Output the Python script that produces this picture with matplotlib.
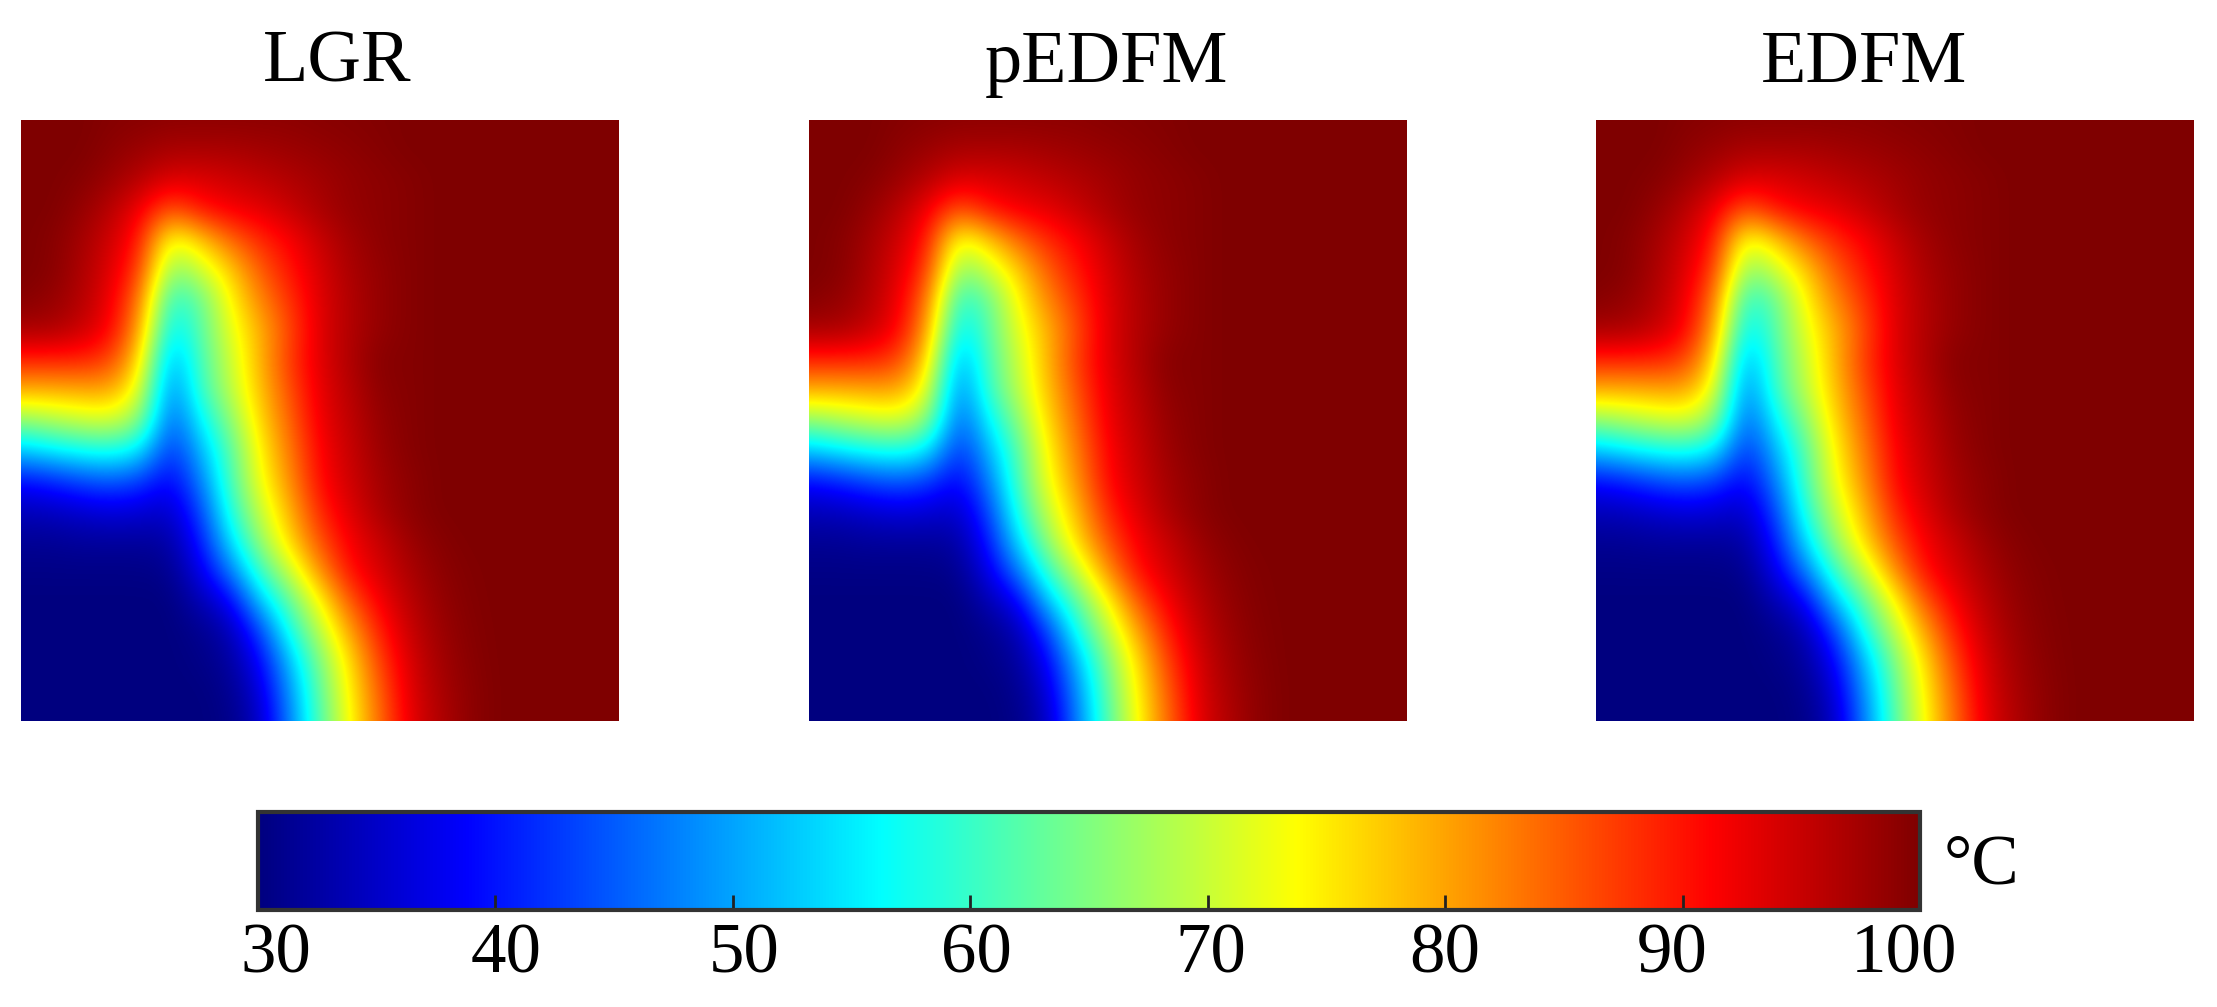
import numpy as np
import matplotlib
matplotlib.use('Agg')
import matplotlib.pyplot as plt
from matplotlib.colors import LinearSegmentedColormap

plt.rcParams['font.family'] = ['Liberation Serif', 'DejaVu Serif']

titles = ['LGR', 'pEDFM', 'EDFM']
title_x = [337, 1106, 1864]
cbar_ticks = [30, 40, 50, 60, 70, 80, 90, 100]

# Temperature on a 21 x 21 grid, top row first.
# The three fields differ by less than can be read, so they share it.
temperature = np.array([
    [100, 100, 100, 99.5, 99.3, 99, 99, 99, 99, 99, 99.3, 99.5, 99.7, 100, 100, 100, 100, 100, 100, 100, 100],
    [100, 100, 100, 99, 98, 97, 97, 97, 97.5, 98, 98.5, 99, 99.5, 100, 100, 100, 100, 100, 100, 100, 100],
    [100, 100, 99.5, 98, 96, 93.5, 93.5, 94.5, 95.5, 96.5, 97.5, 98.5, 99, 99.5, 100, 100, 100, 100, 100, 100, 100],
    [100, 100, 98.5, 96, 92, 85, 90, 92, 93, 95, 97, 98.5, 99, 99.5, 100, 100, 100, 100, 100, 100, 100],
    [100, 99.5, 97.5, 94.5, 89.5, 71.5, 77, 84, 88.5, 91.5, 95, 97.5, 99, 99.5, 100, 100, 100, 100, 100, 100, 100],
    [100, 99.5, 97, 93.5, 87, 65, 70, 77, 85, 90, 94, 97, 98.5, 99.5, 100, 100, 100, 100, 100, 100, 100],
    [99.5, 98.5, 96.5, 92.5, 83, 58, 63, 74, 82, 88, 93.5, 96.5, 98.5, 99.5, 100, 100, 100, 100, 100, 100, 100],
    [97, 97, 95, 91.5, 80, 54, 62, 72, 79, 86.5, 93.5, 96.5, 98.5, 99.5, 100, 100, 100, 100, 100, 100, 100],
    [89, 89, 89, 87, 76, 49, 61, 70, 79, 87.5, 93.4, 96.7, 99.5, 99.5, 100, 100, 100, 100, 100, 100, 100],
    [79, 79, 79.5, 80, 72, 46, 60, 69, 78, 86, 93, 96, 99, 99.5, 100, 100, 100, 100, 100, 100, 100],
    [66, 68, 70, 71, 66, 44, 55.5, 65.5, 76.5, 84.5, 92.5, 95.5, 98.5, 99.5, 100, 100, 100, 100, 100, 100, 100],
    [52.5, 55, 57, 58, 55, 41, 51, 62, 74.5, 83, 91.5, 95, 98, 99.5, 100, 100, 100, 100, 100, 100, 100],
    [39.5, 41, 43.5, 45, 43, 38, 47, 61, 73, 81.5, 91, 94.5, 97.5, 99, 100, 100, 100, 100, 100, 100, 100],
    [34, 34.5, 35.5, 36.5, 36, 35, 43, 58.5, 70, 79, 89, 93.5, 97, 99, 100, 100, 100, 100, 100, 100, 100],
    [31.5, 31.5, 32, 32, 32, 32.5, 40, 54, 66.5, 76.5, 86, 92, 95, 98, 99.5, 100, 100, 100, 100, 100, 100],
    [30.5, 30.5, 30.5, 30.5, 30.5, 31, 37, 47, 60.5, 70, 81.5, 90.5, 94, 97, 99, 99.8, 100, 100, 100, 100, 100],
    [30, 30, 30, 30, 30, 30, 33.5, 38, 52.5, 63, 74, 85.5, 92, 96, 98.5, 99.7, 100, 100, 100, 100, 100],
    [30, 30, 30, 30, 30, 30, 31, 33.5, 43, 58, 69, 80, 89.5, 95, 98, 99.5, 100, 100, 100, 100, 100],
    [30, 30, 30, 30, 30, 30, 30.5, 32, 38.5, 52, 65, 76, 87, 94, 97.5, 99.3, 100, 100, 100, 100, 100],
    [30, 30, 30, 30, 30, 30, 30, 31, 36, 49, 63, 74.5, 85, 93.5, 97, 99, 100, 100, 100, 100, 100],
    [30, 30, 30, 30, 30, 30, 30, 30.5, 34.5, 47.5, 62, 73.5, 84, 93, 96.5, 99, 100, 100, 100, 100, 100],
])

# jet with the evenly spaced stops seen in the colour bar
cmap = LinearSegmentedColormap.from_list('jet_even', [
    (0.0, (0, 0, 0.5)), (0.125, (0, 0, 1)), (0.375, (0, 1, 1)),
    (0.625, (1, 1, 0)), (0.875, (1, 0, 0)), (1.0, (0.5, 0, 0))], N=512)

W, H = 2217, 1007
fig = plt.figure(figsize=(W / 100, H / 100), dpi=100)


def axes_px(x0, x1, y0, y1):
    return fig.add_axes([x0 / W, 1 - y1 / H, (x1 - x0) / W, (y1 - y0) / H])


panel_left = [21, 809, 1596]
n_rows, n_cols = temperature.shape
for left, title, tx in zip(panel_left, titles, title_x):
    ax = axes_px(left, left + 598, 120, 721)
    im = ax.imshow(temperature, cmap=cmap, vmin=30, vmax=100, aspect='auto',
                   interpolation='bicubic', interpolation_stage='data')
    ax.set_xlim(0, n_cols - 1)
    ax.set_ylim(n_rows - 1, 0)
    ax.set_axis_off()
    fig.text(tx / W, 1 - 82 / H, title, ha='center', va='baseline', fontsize=53.5)

# Colour bar, labels are shifted by hand as in the original
cax = axes_px(258, 1920, 812, 910)
cbar = fig.colorbar(im, cax=cax, orientation='horizontal', ticks=cbar_ticks)
cbar.ax.tick_params(direction='in', length=11, width=2, color='#222222', labelbottom=False)
cbar.outline.set_linewidth(3)
cbar.outline.set_edgecolor('#333333')
label_shift = [18, 11, 11, 6, 3, 0, -10, -16]
for tick, shift in zip(cbar_ticks, label_shift):
    cax.annotate(str(tick), xy=(tick, 0), xycoords=('data', 'axes fraction'),
                 xytext=(shift, -45), textcoords='offset pixels',
                 ha='center', va='center', fontsize=51)
fig.text(1981 / W, 1 - 866 / H, '°C', ha='center', va='center', fontsize=51)

fig.savefig('out.png', dpi=100)
